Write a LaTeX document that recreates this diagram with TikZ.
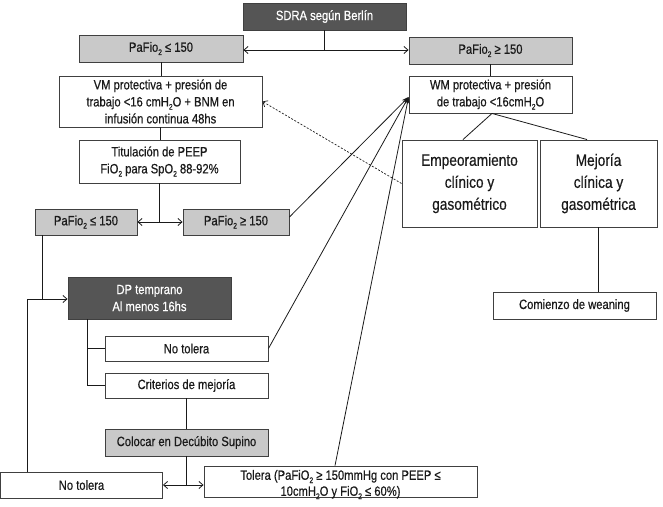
\documentclass[tikz,border=0pt]{standalone}
\usepackage{fontspec}
\setmainfont{Liberation Sans}[FakeStretch=0.83,FakeBold=0.5]
\usetikzlibrary{arrows.meta}
\newcommand{\dn}[1]{\raisebox{-0.45ex}{\fontsize{8}{8}\selectfont #1}}
\definecolor{boxline}{HTML}{404040}
\definecolor{txt}{HTML}{1A1A1A}
\definecolor{lgray}{HTML}{C9C9C9}
\definecolor{dgray}{HTML}{555555}
\tikzset{
  box/.style={draw=boxline, line width=0.9pt, fill=white, align=center, inner sep=0pt,
    text=txt, font=\fontsize{13.5}{17}\selectfont},
  gbox/.style={box, fill=lgray},
  dbox/.style={box, fill=dgray, text=white},
  bigbox/.style={box, font=\fontsize{16.5}{22}\selectfont},
  plain/.style={align=center, inner sep=0pt, text=txt, font=\fontsize{13.5}{16}\selectfont},
  conn/.style={draw=txt, line width=0.8pt},
  arr/.style={conn, -{Straight Barb[length=4pt,width=7pt]}},
  farr/.style={conn, -{Stealth[length=7pt,width=5pt]}},
  dsh/.style={conn, line width=0.7pt, dash pattern=on 2pt off 1.6pt, -{Straight Barb[length=4pt,width=7pt]}}
}
\begin{document}
\begin{tikzpicture}[x=1pt,y=-1pt]
\useasboundingbox (0,0) rectangle (663,506);
% nodes
\node[dbox, minimum width=163pt, minimum height=27pt] (sdra) at (324.5,16.5) {SDRA según Berlín};
\node[gbox, minimum width=164pt, minimum height=27pt] (pl1) at (161,48.5) {PaFio\dn{2} ≤ 150};
\node[gbox, minimum width=163pt, minimum height=27pt] (pr1) at (490.5,50.5) {PaFio\dn{2} ≥ 150};
\node[box, minimum width=203pt, minimum height=51pt] (vm) at (160.5,101.5) {VM protectiva + presión de\\trabajo <16 cmH\dn{2}O + BNM en\\infusión continua 48hs};
\node[box, minimum width=163pt, minimum height=37pt] (wm) at (490.5,94.5) {WM protectiva + presión\\de trabajo <16cmH\dn{2}O};
\node[box, minimum width=161pt, minimum height=43pt] (tit) at (159.5,161.5) {Titulación de PEEP\\FiO\dn{2} para SpO\dn{2} 88-92\%};
\node[gbox, minimum width=102pt, minimum height=26pt] (pl2) at (86,222) {PaFio\dn{2} ≤ 150};
\node[gbox, minimum width=106pt, minimum height=26pt] (pr2) at (236,222) {PaFio\dn{2} ≥ 150};
\node[bigbox, minimum width=135pt, minimum height=87pt] (emp) at (469.5,183.5) {Empeoramiento\\clínico y\\gasométrico};
\node[bigbox, minimum width=117pt, minimum height=87pt] (mej) at (598.5,183.5) {Mejoría\\clínica y\\gasométrica};
\node[box, minimum width=163pt, minimum height=27pt] (com) at (574.5,305.5) {Comienzo de weaning};
\node[dbox, minimum width=163pt, minimum height=42pt] (dp) at (149.5,298) {DP temprano\\Al menos 16hs};
\node[box, minimum width=163pt, minimum height=25pt] (nt1) at (186.5,348.5) {No tolera};
\node[box, minimum width=163pt, minimum height=25pt] (cri) at (186.5,385.5) {Criterios de mejoría};
\node[gbox, minimum width=163pt, minimum height=27pt] (col) at (186.5,442.5) {Colocar en Decúbito Supino};
\node[box, minimum width=162pt, minimum height=26pt] (nt2) at (81.5,485) {No tolera};
\node[box, minimum width=273pt, minimum height=31pt] (tol) at (340.5,481.5) {};
\node[plain] (toltxt) at ([yshift=-3pt]tol.center) {Tolera (PaFiO\dn{2} ≥ 150mmHg con PEEP ≤\\10cmH\dn{2}O y FiO\dn{2} ≤ 60\%)};
% junction coordinates
\coordinate (j1) at (324.5,50);
\coordinate (j2) at (159.5,222);
\coordinate (j3) at (27,299);
\coordinate (j4) at (42,299);
\coordinate (j5) at (87,319);
\coordinate (j6) at (186.5,485);
% connectors
\draw[conn] (sdra.south) -- (j1);
\draw[arr] (j1) -- (pl1.east |- j1);
\draw[arr] (j1) -- (pr1.west |- j1);
\draw[conn] (pl1.south) -- (vm.north -| pl1.south);
\draw[conn] (pr1.south) -- (wm.north);
\draw[conn] (vm.south) -- (vm.south |- tit.north);
\draw[conn] (tit.south) -- (j2);
\draw[arr] (j2) -- (pl2.east);
\draw[arr] (j2) -- (pr2.west);
\draw[conn] (pl2.south -| j4) -- (j4);
\draw[conn] (nt2.north -| j3) -- (j3);
\draw[arr] (j3) -- (dp.west |- j3);
\draw[conn] (dp.south -| j5) |- (nt1.west);
\draw[conn] (dp.south -| j5) |- (cri.west);
\draw[conn] (cri.south) -- (col.north);
\draw[conn] (col.south) -- (j6);
\draw[arr] (j6) -- (nt2.east |- j6);
\draw[arr] (j6) -- (tol.west |- j6);
\draw[farr] ([yshift=5pt]pr2.east) -- ([yshift=-2.5pt]wm.west);
\draw[farr] (nt1.east) -- ([yshift=-2.5pt]wm.west);
\draw[farr] ([xshift=-5.5pt]tol.north) -- ([yshift=-2.5pt]wm.west);
\draw[dsh] (emp.west) -- (vm.east);
\draw[conn] ([xshift=1.5pt]wm.south) -- ([xshift=-6.5pt]emp.north);
\draw[conn] ([xshift=1.5pt]wm.south) -- ([xshift=-11.5pt]mej.north);
\draw[conn] (mej.south) -- (mej.south |- com.north);
\end{tikzpicture}
\end{document}
